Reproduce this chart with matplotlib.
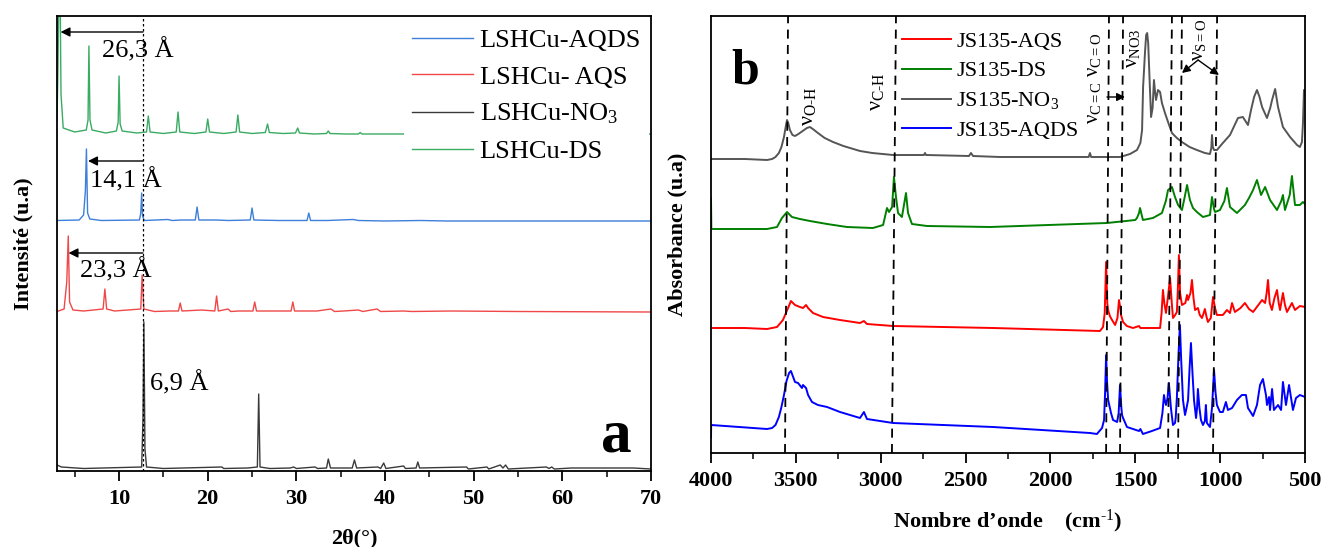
"""
plot.py
XRD (a) and FTIR (b) panels for the LSHCu / JS135 intercalation samples.
"""

import matplotlib.pyplot as plt
from matplotlib.ticker import MultipleLocator

plt.rcParams['font.family'] = 'Liberation Serif'
plt.rcParams['mathtext.fontset'] = 'custom'
plt.rcParams['mathtext.rm'] = 'Liberation Serif'
plt.rcParams['mathtext.it'] = 'Liberation Serif:italic'
plt.rcParams['mathtext.bf'] = 'Liberation Serif:bold'

# --- XRD patterns (2theta in deg, intensity above each pattern's own baseline) ---
ds_tt = [3.0, 3.1, 3.3, 3.45, 3.7, 5.0, 6.3, 6.5, 6.6, 6.72, 6.95, 8.5, 9.7, 9.9, 10.0,
         10.12, 10.35, 12.0, 13.1, 13.3, 13.5, 15.0, 16.45, 16.65, 16.85, 18.5, 19.8,
         20.0, 20.2, 21.8, 23.2, 23.4, 23.6, 25.0, 26.5, 26.75, 26.95, 28.5, 29.9, 30.15,
         30.35, 32.0, 33.4, 33.6, 33.8, 35.5, 37.0, 37.2, 37.4, 40.0, 70.0]
ds_int = [14, 60, 200, 40, 6, 2, 4, 14, 88, 14, 4, 1, 3, 12, 58,
          10, 3, 1, 2, 18, 2, 0.5, 2, 22, 2, 0.5, 2,
          15, 2, 0.5, 2, 19, 2, 0.5, 1.5, 10, 1.5, 0.5, 1, 6,
          1, 0, 0.5, 3, 0.5, 0, 0, 1.5, 0, 0, 0]

aqds_tt = [3.0, 5.5, 6.0, 6.2, 6.32, 6.45, 6.7, 8.0, 12.3, 12.45, 12.55, 12.65, 12.85,
           15.5, 16.0, 17.0, 18.6, 18.8, 19.0, 21.0, 22.3, 24.8, 25.0, 25.2, 28.0, 31.2,
           31.4, 31.6, 33.5, 36.4, 37.0, 40.0, 44.0, 47.0, 70.0]
aqds_int = [0.5, 1, 6, 30, 72, 8, 2, 0.5, 1, 8, 28, 5, 0.5,
            1.5, 0.5, 1, 1, 14, 1, 1, 0.5, 1, 13, 1, 0.5, 0.5,
            8, 0.5, 0.5, 1.5, 0.5, 0, 0.5, 0, 0]

aqs_tt = [3.0, 3.8, 4.1, 4.27, 4.42, 4.8, 6.0, 8.2, 8.4, 8.6, 9.5, 12.45, 12.6, 12.8,
          14.0, 15.7, 16.7, 16.9, 17.1, 19.3, 20.8, 21.0, 21.2, 22.3, 22.6, 23.5, 25.1,
          25.3, 25.5, 27.9, 29.4, 29.6, 29.8, 31.5, 32.3, 33.9, 34.3, 35.3, 37.0, 37.5,
          39.1, 39.5, 42.1, 43.0, 47.5, 55.0, 70.0]
aqs_int = [0.5, 3, 30, 76, 10, 2, 1, 3, 23, 3, 1, 3, 37, 3,
           0.5, 1, 1, 9, 1, 2, 1, 16, 1, 3, 0.5, 1, 1,
           10, 1, 1, 1, 10, 1, 1, 1, 3, 0.5, 1, 2, 0.5,
           3, 0.5, 1, 0.5, 1, 0.5, 0]

no3_tt = [3.0, 3.5, 6.0, 12.55, 12.7, 12.8, 12.92, 13.1, 15.0, 21.6, 21.8, 24.5, 25.6,
          25.75, 25.9, 27.0, 29.3, 29.7, 30.0, 32.1, 32.4, 33.4, 33.6, 33.85, 35.5, 36.3,
          36.55, 36.8, 39.2, 39.5, 39.85, 40.1, 42.1, 42.3, 43.5, 43.7, 43.9, 49.2, 49.4,
          51.5, 51.7, 53.0, 53.3, 53.6, 53.9, 58.2, 58.5, 58.8, 59.1, 61.0, 63.0, 65.8,
          68.0, 70.0]
no3_int = [4, 2, 0.5, 2, 50, 147, 20, 2, 0.5, 2, 0.5, 1, 2,
           75, 2, 0.5, 1, 2, 0.5, 2, 0.5, 1, 10, 1, 1, 1,
           9, 1, 2, 0.5, 6, 0.5, 3, 0.5, 1, 7, 1, 2, 0,
           2, 0, 4, 1, 4, 0, 2, 0.5, 2, 0, 1, 1, 1,
           1, 0]

xrd_offsets = {"DS": 337, "AQDS": 250, "AQS": 159, "NO3": 2}

# --- FTIR spectra (wavenumber in cm-1, absorbance in arbitrary units incl. stacking) ---
no3_wn = [4000, 3800, 3670, 3640, 3620, 3600, 3585, 3570, 3558, 3552, 3545, 3535, 3520,
          3505, 3485, 3460, 3435, 3417, 3400, 3370, 3330, 3281, 3220, 3122, 3050, 2927,
          2745, 2739, 2733, 2480, 2468, 2456, 2297, 1775, 1767, 1760, 1590, 1531, 1490,
          1470, 1460, 1454, 1443, 1436, 1430, 1424, 1415, 1407, 1398, 1390, 1384, 1378,
          1366, 1354, 1343, 1325, 1307, 1284, 1255, 1225, 1180, 1137, 1090, 1060, 1052,
          1048, 1043, 1036, 1019, 984, 942, 895, 866, 836, 818, 800, 783, 768, 753, 724,
          705, 694, 676, 659, 630, 588, 547, 530, 518, 512, 506, 500]
no3_abs = [294, 294, 293, 294, 296, 300, 306, 316, 328, 333, 330, 323, 318,
           317, 319, 322, 325, 326, 324, 320, 315, 311, 307, 302, 300, 298,
           298, 300, 298, 297, 300, 297, 296, 296, 300, 296, 296, 299, 303,
           310, 323, 366, 400, 418, 420, 410, 370, 336, 345, 373, 362, 353,
           363, 361, 350, 340, 331, 320, 315, 311, 306, 303, 300, 299, 305,
           318, 306, 303, 303, 310, 318, 335, 336, 328, 343, 356, 363, 356, 346, 335,
           345, 353, 364, 346, 326, 316, 308, 306, 311, 330, 363, 358]

ds_wn = [4000, 3998, 3800, 3670, 3611, 3582, 3552, 3523, 3476, 3417, 3316, 3199, 3046,
         2986, 2963, 2951, 2933, 2922, 2910, 2898, 2875, 2851, 2839, 2816, 2727, 2356,
         1667, 1500, 1490, 1478, 1472, 1465, 1455, 1396, 1343, 1320, 1307, 1284, 1266,
         1248, 1225, 1210, 1195, 1178, 1160, 1137, 1101, 1060, 1048, 1036, 1030, 1001,
         975, 960, 942, 901, 854, 830, 806, 783, 759, 735, 706, 665, 640, 630, 618, 590,
         577, 559, 530, 512, 500]
ds_abs = [255, 224, 224, 224, 226, 235, 241, 236, 234, 232, 229, 226, 225,
          228, 245, 241, 246, 276, 256, 240, 236, 260, 240, 229, 227, 226,
          230, 233, 235, 240, 245, 240, 233, 235, 240, 252, 263, 266, 256,
          248, 243, 255, 268, 253, 245, 241, 236, 238, 256, 244, 241, 243,
          252, 265, 246, 240, 248, 255, 263, 273, 258, 266, 253, 243, 252, 258, 243, 258,
          277, 248, 248, 251, 249]

aqs_wn = [4000, 3800, 3670, 3611, 3576, 3546, 3529, 3505, 3476, 3458, 3440, 3428, 3399,
          3340, 3240, 3122, 3099, 3081, 2927, 2338, 1708, 1690, 1680, 1672, 1665, 1660,
          1650, 1637, 1619, 1605, 1596, 1588, 1584, 1572, 1550, 1513, 1478, 1470, 1413,
          1354, 1345, 1337, 1329, 1319, 1305, 1295, 1285, 1278, 1265, 1255, 1250, 1243,
          1236, 1225, 1205, 1195, 1189, 1175, 1166, 1157, 1148, 1131, 1120, 1107, 1097,
          1090, 1080, 1072, 1055, 1042, 1030, 1019, 984, 960, 942, 930, 913, 880, 854,
          830, 806, 775, 753, 735, 726, 718, 708, 695, 680, 665, 655, 647, 638, 630,
          618, 606, 590, 577, 559, 530, 500]
aqs_abs = [125, 125, 124, 126, 133, 145, 152, 148, 146, 145, 148, 145, 140,
           136, 133, 130, 132, 129, 127, 125, 122, 126, 140, 191, 150, 143,
           137, 133, 128, 135, 153, 145, 138, 131, 127, 125, 127, 125, 125,
           125, 140, 163, 150, 140, 160, 175, 150, 135, 138, 141, 160, 198,
           160, 148, 150, 158, 153, 160, 173, 155, 143, 145, 138, 135, 140,
           144, 136, 131, 135, 156, 145, 138, 138, 143, 140, 150, 141, 145, 150,
           144, 141, 148, 153, 150, 160, 173, 150, 143, 155, 163, 150, 143, 152, 160,
           148, 141, 146, 150, 143, 147, 146]

aqds_wn = [4000, 3999, 3670, 3640, 3620, 3600, 3585, 3570, 3555, 3540, 3529, 3505,
           3487, 3464, 3458, 3440, 3428, 3405, 3370, 3316, 3240, 3122, 3099, 3081, 2927,
           2338, 1767, 1726, 1696, 1684, 1678, 1672, 1666, 1660, 1643, 1631, 1607, 1598,
           1590, 1582, 1578, 1572, 1549, 1478, 1470, 1455, 1402, 1354, 1340, 1331, 1325,
           1319, 1310, 1302, 1290, 1278, 1266, 1262, 1255, 1245, 1237, 1230, 1219, 1207,
           1198, 1189, 1180, 1172, 1163, 1154, 1142, 1136, 1131, 1122, 1113, 1101, 1090,
           1084, 1078, 1060, 1048, 1036, 1027, 1019, 1001, 984, 966, 954, 930, 901, 872,
           848, 836, 806, 783, 765, 748, 730, 724, 712, 706, 694, 683, 659, 641, 630,
           612, 594, 571, 553, 530, 500]
aqds_abs = [16, 28, 24, 25, 28, 36, 46, 58, 72, 80, 82, 71,
            70, 65, 68, 65, 58, 51, 48, 46, 41, 35, 41, 34, 30,
            26, 20, 19, 25, 33, 60, 98, 70, 53, 40, 33, 31, 40,
            68, 45, 38, 35, 26, 22, 24, 19, 22, 25, 40, 58, 52,
            48, 55, 70, 45, 28, 30, 35, 55, 100, 128, 95, 53, 38,
            45, 53, 85, 110, 80, 53, 35, 45, 64, 45, 33, 28, 32,
            48, 30, 26, 45, 83, 60, 48, 41, 41, 51, 43, 45, 53, 58,
            58, 45, 37, 48, 68, 74, 58, 48, 56, 43, 64, 43, 48, 43,
            71, 48, 68, 43, 55, 58, 56]

# band positions marked with dashed guides (bottom, top of the hand-drawn lines)
band_bottom = [3564, 2934, 1672, 1590, 1307, 1248, 1042]
band_top = [3546, 2910, 1655, 1572, 1284, 1225, 1018]


fig = plt.figure(figsize=(13.23, 5.47), dpi=100)
ax1 = fig.add_axes([57 / 1323, 76 / 547, 594 / 1323, 455 / 547])
ax2 = fig.add_axes([711 / 1323, 94 / 547, 594 / 1323, 437 / 547])

# ---------------- panel a : XRD ----------------
xrd = [
    (aqds_tt, aqds_int, xrd_offsets["AQDS"], "#3d7fd9", "LSHCu-AQDS"),
    (aqs_tt, aqs_int, xrd_offsets["AQS"], "#f04848", "LSHCu- AQS"),
    (no3_tt, no3_int, xrd_offsets["NO3"], "#3a3a3a", "LSHCu-NO$_3$"),
    (ds_tt, ds_int, xrd_offsets["DS"], "#3aab62", "LSHCu-DS"),
]
for tt, inten, off, col, lab in xrd:
    ax1.plot(tt, [v + off for v in inten], color=col, lw=1.0, label=lab)

ax1.axvline(12.7, color="black", lw=0.9, ls=(0, (2, 2)))

arrow_kw = dict(arrowstyle="-|>", color="black", lw=1.0, mutation_scale=14, shrinkA=0, shrinkB=0)
ax1.annotate("", xy=(3.4, 439), xytext=(12.7, 439), arrowprops=arrow_kw)
ax1.annotate("", xy=(6.5, 310), xytext=(12.7, 310), arrowprops=arrow_kw)
ax1.annotate("", xy=(4.3, 218), xytext=(12.7, 218), arrowprops=arrow_kw)
ax1.text(8.1, 421, "26,3 Å", fontsize=19, ha="left", va="center")
ax1.text(6.7, 291, "14,1 Å", fontsize=19, ha="left", va="center")
ax1.text(5.6, 201, "23,3 Å", fontsize=19, ha="left", va="center")
ax1.text(13.5, 88, "6,9 Å", fontsize=19, ha="left", va="center")
ax1.text(66.1, 19, "a", fontsize=44, fontweight="bold", ha="center", va="baseline")

ax1.legend(loc="upper left", bbox_to_anchor=(0.585, 0.99), fontsize=19,
           frameon=True, fancybox=False, edgecolor="none", facecolor="white",
           framealpha=1, borderpad=0.3, handlelength=2.3, handletextpad=0.25,
           labelspacing=0.5, borderaxespad=0)

ax1.set_xlim(3, 70)
ax1.set_ylim(0, 455)
ax1.set_yticks([])
ax1.xaxis.set_major_locator(MultipleLocator(10))
ax1.xaxis.set_minor_locator(MultipleLocator(5))
ax1.set_xlabel("2θ(°)", fontsize=16, fontweight="bold", labelpad=14)
ax1.set_ylabel("Intensité (u.a)", fontsize=16, fontweight="bold", labelpad=17)

# ---------------- panel b : FTIR ----------------
ftir = [
    (aqs_wn, aqs_abs, "#ff0000", "JS135-AQS"),
    (ds_wn, ds_abs, "#008000", "JS135-DS"),
    (no3_wn, no3_abs, "#555555", "JS135-NO$_3$"),
    (aqds_wn, aqds_abs, "#0000ff", "JS135-AQDS"),
]
for wn, ab, col, lab in ftir:
    ax2.plot(wn, ab, color=col, lw=1.4, label=lab)

for wb, wt in zip(band_bottom, band_top):
    ax2.plot([wb, wt], [0, 437], color="black", lw=1.3, ls=(0, (5, 3.5)), zorder=3)

hy = "\u2010"
ax2.text(3428, 347, "ν$_{\\mathrm{O" + hy + "H}}$", fontsize=16, rotation=90,
         ha="center", va="center")
ax2.text(3022, 361, "ν$_{\\mathrm{C" + hy + "H}}$", fontsize=16, rotation=90,
         ha="center", va="center")
ax2.text(1749, 375, "ν$_{\\mathrm{C=C}}$ ν$_{\\mathrm{C=O}}$", fontsize=15, rotation=90,
         ha="center", va="center")
ax2.text(1519, 405, "ν$_{\\mathrm{NO3}}$", fontsize=15, rotation=90, ha="center", va="center")
ax2.text(1130, 413, "ν$_{\\mathrm{S=O}}$", fontsize=15, rotation=90, ha="center", va="center")

arrow_kw2 = dict(arrowstyle="-|>", color="black", lw=1.0, mutation_scale=12, shrinkA=0, shrinkB=0)
ax2.annotate("", xy=(1561, 356), xytext=(1667, 356), arrowprops=arrow_kw2)
ax2.annotate("", xy=(1225, 380), xytext=(1130, 393), arrowprops=arrow_kw2)
ax2.annotate("", xy=(1007, 378), xytext=(1130, 393), arrowprops=arrow_kw2)

ax2.text(3800, 370, "b", fontsize=36, fontweight="bold", ha="center", va="baseline")

ax2.legend(loc="upper left", bbox_to_anchor=(0.31, 0.98), fontsize=16, frameon=False,
           borderpad=0.3, handlelength=2.2, handletextpad=0.25, labelspacing=0.4,
           borderaxespad=0)

ax2.set_xlim(4000, 500)
ax2.set_ylim(0, 437)
ax2.set_yticks([])
ax2.xaxis.set_major_locator(MultipleLocator(500))
ax2.xaxis.set_minor_locator(MultipleLocator(250))
ax2.set_xlabel("Nombre d’onde    (cm$^{" + hy + "1}$)", fontsize=16, fontweight="bold",
               labelpad=12)
ax2.set_ylabel("Absorbance (u.a)", fontsize=16, fontweight="bold", labelpad=17)

for ax in (ax1, ax2):
    for sp in ax.spines.values():
        sp.set_linewidth(1.3)
    ax.tick_params(axis="x", which="major", direction="out", length=7, width=1.3,
                   labelsize=16, pad=6)
    ax.tick_params(axis="x", which="minor", direction="out", length=4, width=1.1)
    for lbl in ax.get_xticklabels():
        lbl.set_fontweight("bold")

fig.savefig("out.png", dpi=100)
